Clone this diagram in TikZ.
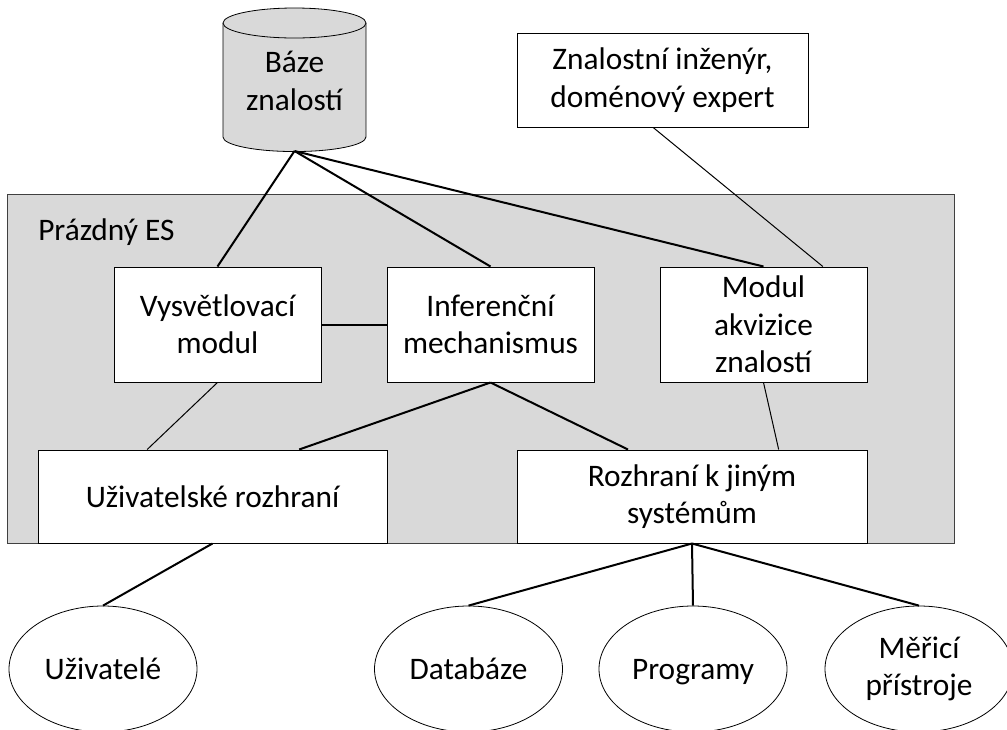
\documentclass[tikz,border=0pt]{standalone}
\usepackage{fontspec}
\setmainfont{Carlito}
\usetikzlibrary{shapes.geometric,calc}
\definecolor{esgray}{HTML}{D9D9D9}
\begin{document}
\begin{tikzpicture}[x=0.75pt,y=-0.75pt,
  every node/.style={font=\fontsize{23.5}{28}\selectfont, align=center, inner sep=0pt},
  box/.style={draw=black, fill=white, line width=0.75pt},
  midbox/.style={box, minimum width=155.25pt, minimum height=86.25pt},
  lowbox/.style={box, minimum height=69.75pt},
  oval/.style={ellipse, draw=black, fill=white, line width=0.6pt, minimum width=141pt, minimum height=94.5pt},
  thickline/.style={line width=1.5pt},
  thinline/.style={line width=0.75pt}]
\useasboundingbox (0,0) rectangle (1007,729);

% empty ES frame
\node[draw=black!75, fill=esgray, line width=0.75pt, minimum width=710.25pt, minimum height=261.75pt] (es) at (480.5,368.5) {};
\node[anchor=west] (eslabel) at (38,232) {Prázdný ES};

% knowledge base cylinder
\draw[line width=0.6pt, fill=esgray] (223,23) -- (223,137) arc[start angle=180, end angle=360, x radius=53.6pt, y radius=10.9pt] -- (366,23);
\draw[line width=0.6pt, fill=esgray] (294.5,23) ellipse[x radius=53.6pt, y radius=11.25pt];
\node (kb) at (294.5,81) {Báze\\znalostí};
\coordinate (kbb) at (294.5,151);

% expert
\node[box, minimum width=218.25pt, minimum height=70.5pt] (zi) at (662.5,80) {Znalostní inženýr,\\doménový expert};

% modules
\node[midbox] (vys) at (217.5,324.5) {Vysvětlovací\\modul};
\node[midbox] (inf) at (490.5,324.5) {Inferenční\\mechanismus};
\node[midbox] (mod) at (763.5,324.5) {Modul\\akvizice\\znalostí};

\node[lowbox, minimum width=261.75pt] (ui) at (212.5,496.5) {Uživatelské rozhraní};
\node[lowbox, minimum width=262.5pt] (ri) at (692,496.5) {Rozhraní k jiným\\systémům};

% outside
\node[oval] (usr) at (103,669) {Uživatelé};
\node[oval] (db) at (468.5,669) {Databáze};
\node[oval, text depth=0pt] (pg) at (693,669) {Programy};
\node[oval] (mp) at (919,669) {Měřicí\\přístroje};

% connectors
\draw[thickline] (kbb) -- (vys.north);
\draw[thickline] (kbb) -- (inf.north);
\draw[thickline] (kbb) -- (mod.north);
\draw[thinline] ([xshift=-7pt]zi.south) -- ([xshift=44.5pt]mod.north);
\draw[thickline] (vys.east) -- (inf.west);
\draw[thinline] (vys.south) -- ([xshift=-49pt]ui.north);
\draw[thickline] (inf.south) -- ([xshift=65pt]ui.north);
\draw[thickline] (inf.south) -- ([xshift=-48pt]ri.north);
\draw[thinline] (mod.south) -- ([xshift=65pt]ri.north);
\draw[thickline] (ui.south) -- (usr.north);
\draw[thickline] (ri.south) -- (db.north);
\draw[thickline] (ri.south) -- (pg.north);
\draw[thickline] (ri.south) -- (mp.north);
\end{tikzpicture}
\end{document}
